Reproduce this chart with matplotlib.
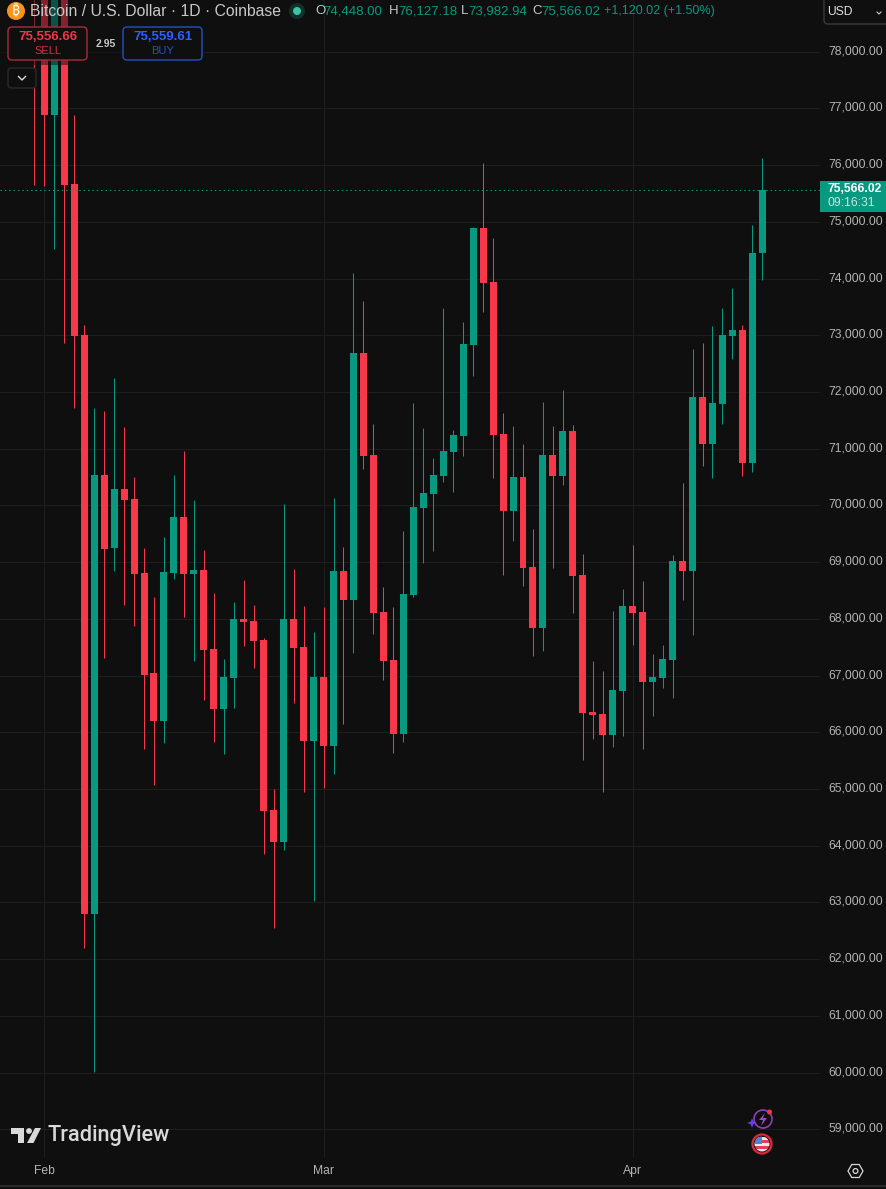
import matplotlib
matplotlib.use("Agg")
import matplotlib.pyplot as plt
import numpy as np
from matplotlib.patches import Circle, FancyBboxPatch, Polygon, Rectangle, RegularPolygon
from matplotlib.transforms import ScaledTranslation

# daily candles, Jan 31 to Apr 14 (the first few run off the top of the chart)
opens = [80500, 79300, 76886, 79000, 75668, 73005, 62797, 70537, 69250, 70290,
         70114, 68809, 67046, 66199, 68809, 69796, 68791, 68862, 67469, 66411,
         66958, 67998, 67963, 67628, 64631, 64067, 67998, 67504, 65847, 66975,
         65759, 68844, 68333, 72688, 70890, 68122, 67275, 65971, 68421, 69955,
         70202, 70519, 70942, 71225, 72829, 74892, 73940, 71260, 69902, 70502,
         68915, 67840, 70889, 70519, 71313, 68774, 66359, 66323, 65953, 66729,
         68228, 68122, 66888, 66958, 67275, 69021, 68845, 71912, 71083, 71789,
         72988, 73093, 70749, 74448]
highs = [81000, 79500, 79500, 79400, 76886, 73180, 71712, 71665, 72247, 71383,
         70501, 69250, 68386, 69444, 70537, 70960, 70096, 69214, 68456, 67293,
         68298, 68685, 68245, 67663, 65001, 70026, 68879, 68227, 67769, 68209,
         70131, 69267, 74100, 73605, 71436, 68562, 68210, 69550, 71806, 71366,
         70837, 73480, 71330, 73234, 74910, 76038, 74715, 71630, 71401, 71083,
         69585, 71824, 71401, 72036, 71418, 69144, 67258, 67081, 68139, 68527,
         69303, 68668, 67381, 67540, 69127, 70396, 72758, 72864, 73164, 73481,
         73834, 73181, 74945, 76127]
lows = [75650, 75632, 74522, 72864, 71717, 62198, 60010, 67316, 68844, 68245,
        67874, 65706, 65071, 65812, 68703, 68033, 67257, 66570, 65829, 65618,
        66429, 67522, 67134, 63855, 62550, 63925, 66517, 64948, 63026, 65018,
        65265, 66147, 67398, 70643, 67734, 66923, 65636, 65830, 68386, 68985,
        69197, 70414, 70237, 70872, 72282, 73411, 70484, 68774, 69373, 68580,
        67346, 67434, 68897, 70361, 68104, 65512, 65882, 64948, 65741, 65935,
        67540, 65706, 66288, 66782, 66605, 68333, 67716, 70696, 70484, 71436,
        72582, 70519, 70590, 73982]
closes = [79300, 76886, 79000, 75650, 72988, 62797, 70537, 69232, 70290, 70096,
          68791, 67010, 66199, 68827, 69796, 68791, 68862, 67451, 66411, 66975,
          67998, 67945, 67610, 64613, 64067, 67998, 67487, 65847, 66975, 65759,
          68844, 68333, 72688, 70872, 68104, 67257, 65971, 68439, 69973, 70220,
          70537, 70960, 71242, 72847, 74892, 73922, 71242, 69902, 70502, 68897,
          67840, 70889, 70519, 71313, 68756, 66341, 66306, 65953, 66747, 68228,
          68104, 66888, 66976, 67293, 69021, 68845, 71912, 71083, 71806, 73005,
          73093, 70749, 74451, 75566]

price_ticks = list(range(59000, 79000, 1000))
month_pos = [1, 29, 60]
month_names = ["Feb", "Mar", "Apr"]

BG = "#0f0f0f"
GRID = "#1e1e1e"
RED = "#f7374a"
GREEN = "#089981"
TXT = "#b4b4b4"

plt.rcParams["font.family"] = ["Liberation Sans", "DejaVu Sans"]

W, H = 886, 1189
fig = plt.figure(figsize=(W / 100, H / 100), dpi=100, facecolor=BG)
ax = fig.add_axes([0, (H - 1157) / H, 820 / W, 1157 / H], facecolor=BG)

x = np.arange(len(opens))
o = np.array(opens)
c = np.array(closes)
colors = [GREEN if b >= a else RED for a, b in zip(o, c)]

wicks = ax.vlines(x, lows, highs, colors=colors, linewidth=0.75, zorder=3)
wicks.set_snap(True)
ax.bar(x, np.abs(c - o), bottom=np.minimum(o, c), width=0.7, color=colors, linewidth=0, zorder=4)
ax.axhline(closes[-1], color=GREEN, linewidth=0.75, linestyle=(0, (1.4, 2.8)), zorder=5)

ax.set_xlim(-3.44, 78.78)
ax.set_ylim(58513, 78911)
ax.set_yticks(price_ticks)
ax.set_yticklabels([f"{p:,.2f}" for p in price_ticks])
ax.set_xticks(month_pos)
ax.set_xticklabels(month_names)
ax.yaxis.tick_right()
ax.tick_params(axis="both", length=0, colors=TXT, labelsize=8.7)
ax.tick_params(axis="y", pad=6)
ax.tick_params(axis="x", pad=6)
ax.grid(True, color=GRID, linewidth=0.75)
ax.set_axisbelow(True)
for s in ax.spines.values():
    s.set_visible(False)

# price labels sit a touch above their grid lines
lift = ScaledTranslation(0, 1.44 / 72, fig.dpi_scale_trans)
for t in ax.get_yticklabels():
    t.set_transform(t.get_transform() + lift)

# everything around the chart is placed in screen pixels
ov = fig.add_axes([0, 0, 1, 1], facecolor="none", zorder=5)
ov.set_xlim(0, W)
ov.set_ylim(H, 0)
ov.axis("off")


def box(x0, y0, x1, y1, edge, fill=BG, r=4, lw=1):
    ov.add_patch(FancyBboxPatch((x0 + r, y0 + r), x1 - x0 - 2 * r, y1 - y0 - 2 * r,
                                boxstyle=f"round,pad={r}", fc=fill, ec=edge, lw=lw))


def label(px, py, s, color=TXT, size=8.7, ha="left", **kw):
    ov.text(px, py, s, color=color, fontsize=size, ha=ha, va="center", **kw)


# header dims the candles behind it
ov.add_patch(Rectangle((0, 0), 205, 65, fc=BG, ec="none", alpha=0.5))

ov.add_patch(Circle((16, 11), 9, fc="#f7931a", ec="none"))
ov.text(16, 11, "\u20bf", color="white", fontsize=10, ha="center", va="center",
        family=["Noto Sans", "Inter", "Roboto", "Open Sans", "DejaVu Sans"], weight="bold")
label(30, 11, "Bitcoin / U.S. Dollar \u00b7 1D \u00b7 Coinbase", color="#c8c8c8", size=11.3)
ov.add_patch(Circle((297, 11), 8, fc="#10302a", ec="none"))
ov.add_patch(Circle((297, 11), 4, fc="#3fc1a5", ec="none"))

for px, s in [(315, "O"), (388.5, "H"), (461, "L"), (532, "C")]:
    label(px, 11, s, color="#c8c8c8", size=9.5)
for px, s in [(323.5, "74,448.00"), (398, "76,127.18"), (468, "73,982.94"), (541, "75,566.02")]:
    label(px, 11, s, color=GREEN, size=9.5)
label(604, 11, "+1,120.02 (+1.50%)", color=GREEN, size=9)

# sell / buy widget
box(8, 27, 87, 60, "#a92c3b")
label(48, 37, "75,556.66", color="#f23645", size=9.5, ha="center", weight="bold")
label(47.5, 51, "SELL", color="#d5303f", size=8, ha="center")
box(123, 27, 202, 60, "#2450c8")
label(163, 37, "75,559.61", color="#2962ff", size=9.5, ha="center", weight="bold")
label(163, 51, "BUY", color="#2450c8", size=8, ha="center")
label(105.5, 44, "2.95", color="#c8c8c8", size=7.5, ha="center", weight="bold")
box(8, 68, 36, 88, "#2a2a2a", r=3)
ov.plot([18.5, 22, 25.5], [76.5, 80, 76.5], color="#dddddd", lw=1)

# currency box
box(824, -6, 892, 24, "#3a3a3a", r=4)
label(827.5, 12, "USD", color="#e0e0e0", size=8.7)
ov.plot([877, 879, 881], [12, 14, 12], color="#cccccc", lw=0.8)

# last price tag
ov.add_patch(Rectangle((820, 181), 66, 31, fc=GREEN, ec="none"))
label(828, 188.5, "75,566.02", color="white", size=8.7, weight="bold")
label(828, 202.5, "09:16:31", color="#c4e6de", size=8.7)

# TradingView logo
LOGO = "#d9d9d9"
ov.add_patch(Polygon([(11, 1128), (24, 1128), (24, 1143), (18, 1143), (18, 1133.5), (11, 1133.5)],
                     fc=LOGO, ec="none"))
ov.add_patch(Circle((29, 1131), 2.9, fc=LOGO, ec="none"))
ov.add_patch(Polygon([(35, 1128), (41, 1128), (33.5, 1143), (27, 1143)], fc=LOGO, ec="none"))
label(48, 1136, "TradingView", color=LOGO, size=15.7, family="Roboto", weight="medium")

# news / flag icons
ov.add_patch(Circle((763, 1119), 9, fc="none", ec="#8e3fb5", lw=1.2))
ov.add_patch(Polygon([(765, 1113), (759, 1120), (763, 1120), (761, 1126), (767, 1118), (763, 1118)],
                     fc="#a544c8", ec="none"))
ov.add_patch(Polygon([(752, 1118), (753.3, 1121.7), (757, 1123), (753.3, 1124.3),
                      (752, 1128), (750.7, 1124.3), (747, 1123), (750.7, 1121.7)],
                     fc="#6a3df0", ec="none"))
ov.add_patch(Circle((769.5, 1112), 2.5, fc="#f23645", ec="none"))

clip = Circle((762, 1144), 7.5, transform=ov.transData)
for top, col in zip([1136.5, 1139.5, 1142.5, 1145.5, 1148.5], ["#e8e8e8", "#e04050", "#e8e8e8", "#e04050", "#e8e8e8"]):
    st = Rectangle((754, top), 16, 3, fc=col, ec="none")
    ov.add_patch(st)
    st.set_clip_path(clip)
canton = Rectangle((754, 1136), 8, 8, fc="#4a86d8", ec="none")
ov.add_patch(canton)
canton.set_clip_path(clip)
ov.add_patch(Circle((762, 1144), 9.5, fc="none", ec="#dc2a3c", lw=1.6))

# settings hexagon and bottom rule
ov.add_patch(RegularPolygon((855.5, 1171), 6, radius=7.5, orientation=np.pi / 2, fc="none",
                            ec="#d8d8d8", lw=0.9))
ov.add_patch(Circle((855.5, 1171), 2.4, fc="none", ec="#d8d8d8", lw=0.9))
ov.plot([0, W], [1185.5, 1185.5], color="#2a2a2a", lw=1.4)

fig.savefig("out.png", dpi=100, facecolor=BG)
